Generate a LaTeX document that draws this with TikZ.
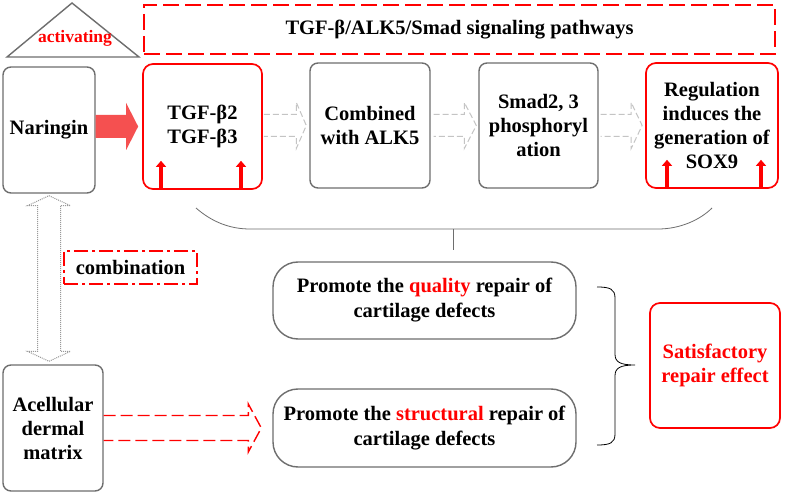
\documentclass[tikz,border=0pt]{standalone}
\usepackage{fontspec}
\setmainfont{Liberation Serif}
\usetikzlibrary{calc,arrows.meta}
\definecolor{bgray}{HTML}{6E6E6E}
\definecolor{lgray}{HTML}{C4C4C4}
\definecolor{dgray}{HTML}{9A9A9A}
\definecolor{rfill}{HTML}{F55050}
\begin{document}
\begin{tikzpicture}[x=1pt,y=-1pt,
  txt/.style={font=\bfseries\fontsize{20.5}{24}\selectfont, align=center, inner sep=0pt},
  gbox/.style={txt, draw=bgray, line width=1.4pt, rounded corners=8pt},
  rbox/.style={txt, draw=red, line width=1.7pt, rounded corners=10pt},
  pbox/.style={gbox, font=\bfseries\fontsize{20.5}{25}\selectfont, rounded corners=25pt, minimum width=303pt},
  upar/.style={red, line width=4.5pt, -{Triangle[width=10pt,length=6pt]}},
  thinline/.style={bgray, line width=0.8pt},
  garrow/.style={lgray, dash pattern=on 6pt off 3pt, line width=1pt},
]
\path[fill=white] (0,0) rectangle (790,494);
\useasboundingbox (0,0) rectangle (790,494);

% triangle label
\draw[bgray, line width=1.4pt] (7,57) -- (72,3) -- (139,57) -- cycle;
\node[font=\bfseries\fontsize{17.5}{20}\selectfont, text=red, inner sep=0pt] (act) at (75,38) {activating};

% title
\node[txt, draw=red, line width=1.7pt, dash pattern=on 16pt off 6pt, minimum width=631pt, minimum height=49pt] (title) at (459.5,29.5) {TGF-β/ALK5/Smad signaling pathways};

% top row
\node[gbox, minimum width=92pt, minimum height=126pt] (nar) at (49,130) {Naringin};
\node[rbox, minimum width=119pt, minimum height=125pt] (tgf) at (202.5,126.5) {TGF-β2\\TGF-β3};
\node[gbox, minimum width=120pt, minimum height=125pt] (comb) at (370,125.5) {Combined\\with ALK5};
\node[gbox, minimum width=119pt, minimum height=125pt] (smad) at (538.5,125.5) {Smad2, 3\\phosphoryl\\ation};
\node[rbox, minimum width=132pt, minimum height=125pt] (reg) at (712,125.5) {Regulation\\induces the\\generation of\\SOX9};

% small red up arrows
\draw[upar] ($(tgf.south)+(-41.5,-1)$) -- ++(0,-28);
\draw[upar] ($(tgf.south)+(38.5,-1)$) -- ++(0,-28);
\draw[upar] ($(reg.south)+(-45,-1)$) -- ++(0,-28);
\draw[upar] ($(reg.south)+(49,-1)$) -- ++(0,-28);

% big red arrow
\fill[rfill] let \p1=(nar.east), \p2=(tgf.west) in
  (\x1,\y2+11.5pt) -- (\x2-16pt,\y2+11.5pt) -- (\x2-16pt,\y2+23.5pt) -- (\x2-4pt,\y2)
  -- (\x2-16pt,\y2-23.5pt) -- (\x2-16pt,\y2-11.5pt) -- (\x1,\y2-11.5pt) -- cycle;

% gray hollow dashed arrows
\draw[garrow] let \p1=(tgf.east), \p2=(comb.west) in
  (\x1+1pt,\y2+11pt) -- (\x2-13pt,\y2+11pt) -- (\x2-13pt,\y2+23pt) -- (\x2-3pt,\y2)
  -- (\x2-13pt,\y2-23pt) -- (\x2-13pt,\y2-11pt) -- (\x1+1pt,\y2-11pt);
\draw[garrow] let \p1=(comb.east), \p2=(smad.west) in
  (\x1+3pt,\y2+11pt) -- (\x2-14pt,\y2+11pt) -- (\x2-14pt,\y2+23pt) -- (\x2-2pt,\y2)
  -- (\x2-14pt,\y2-23pt) -- (\x2-14pt,\y2-11pt) -- (\x1+3pt,\y2-11pt);
\draw[garrow] let \p1=(smad.east), \p2=(reg.west) in
  (\x1+2pt,\y2+11pt) -- (\x2-14pt,\y2+11pt) -- (\x2-14pt,\y2+23pt) -- (\x2-3pt,\y2)
  -- (\x2-14pt,\y2-23pt) -- (\x2-14pt,\y2-11pt) -- (\x1+2pt,\y2-11pt);

% curved bracket under the pathway
\draw[thinline] (196,208) .. controls (212,222) and (230,229) .. (250,229) -- (658,229)
  .. controls (680,229) and (700,220) .. (712,208);
\coordinate (bt) at (453,229);
\coordinate (bb) at (453,250);
\draw[thinline] (bt) -- (bb);

% lower left
\node[gbox, minimum width=100pt, minimum height=126pt] (acell) at (53,428) {Acellular\\dermal\\matrix};
\node[txt, draw=red, line width=1.6pt, dash pattern=on 14pt off 4pt on 3pt off 4pt, minimum width=133pt, minimum height=33pt] (combi) at (130.5,267.5) {combination};

% vertical double arrow
\draw[dgray, densely dotted, line width=1pt] let \p1=(nar.south), \p2=(acell.north) in
  (\x1,\y1-2pt) -- (\x1+21.5pt,\y1-12pt) -- (\x1+11.5pt,\y1-12pt) -- (\x1+11.5pt,\y2+13pt)
  -- (\x1+21.5pt,\y2+13pt) -- (\x1,\y2+3pt) -- (\x1-21.5pt,\y2+13pt) -- (\x1-11.5pt,\y2+13pt)
  -- (\x1-11.5pt,\y1-12pt) -- (\x1-21.5pt,\y1-12pt) -- cycle;

% promote boxes
\node[pbox, minimum height=77pt] (p1) at (424.5,300.5) {Promote the \textcolor{red}{quality} repair of\\cartilage defects};
\node[pbox, minimum height=78pt] (p2) at (424.5,428) {Promote the \textcolor{red}{structural} repair of\\cartilage defects};

% red dashed hollow arrow
\draw[red, line width=1.4pt, dash pattern=on 12pt off 5pt] let \p1=(acell.east), \p2=(p2.west) in
  (\x1,\y2+12.5pt) -- (\x2-24pt,\y2+12.5pt) -- (\x2-24pt,\y2+24pt) -- (\x2-11pt,\y2)
  -- (\x2-24pt,\y2-24pt) -- (\x2-24pt,\y2-12.5pt) -- (\x1,\y2-12.5pt);

% result
\node[rbox, text=red, minimum width=130pt, minimum height=125pt] (sat) at (715,365.5) {Satisfactory\\repair effect};

% brace
\draw[black, line width=0.8pt] (597,287) .. controls (610,287) and (615,289) .. (615,298) -- (615,354)
  .. controls (615,362) and (620,365) .. (635,365)
  .. controls (620,365) and (615,368) .. (615,376) -- (615,434)
  .. controls (615,443) and (610,445) .. (597,445);
\end{tikzpicture}
\end{document}
